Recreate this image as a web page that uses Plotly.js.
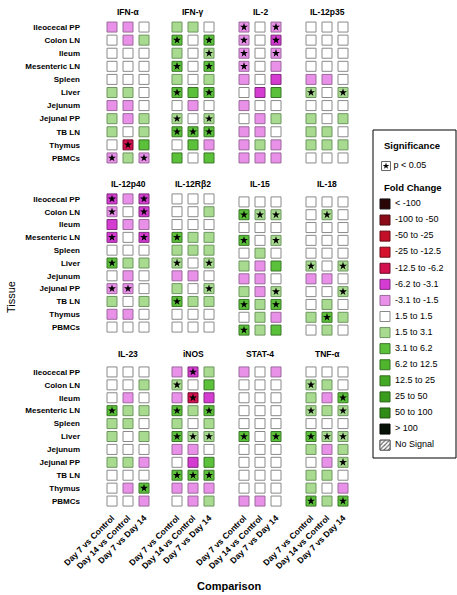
<!DOCTYPE html>
<html><head><meta charset="utf-8">
<script src="https://cdn.plot.ly/plotly-3.0.1.min.js"></script>
<style>html,body{margin:0;padding:0;background:#fff}#chart{width:457px;height:595px}</style>
</head><body><div id="chart"></div>
<script>
// ---------- data ----------
const tissues = ['Ileocecal PP','Colon LN','Ileum','Mesenteric LN','Spleen','Liver','Jejunum','Jejunal PP','TB LN','Thymus','PBMCs'];
const comparisons = ['Day 7 vs Control','Day 14 vs Control','Day 7 vs Day 14'];
const genes = ['IFN-α','IFN-γ','IL-2','IL-12p35','IL-12p40','IL-12Rβ2','IL-15','IL-18','IL-23','iNOS','STAT-4','TNF-α'];
const foldLevels = ['< -100','-100 to -50','-50 to -25','-25 to -12.5','-12.5 to -6.2','-6.2 to -3.1','-3.1 to -1.5','1.5 to 1.5','1.5 to 3.1','3.1 to 6.2','6.2 to 12.5','12.5 to 25','25 to 50','50 to 100','> 100','No Signal'];
const sigLabel = 'p < 0.05';

// fold-change level index (into foldLevels) for each tissue x comparison
const ifnA    = [[6,6,7],[7,6,8],[7,7,7],[7,7,7],[7,7,7],[8,8,7],[6,6,7],[8,6,8],[8,7,8],[7,4,9],[6,8,6]];
const ifnG    = [[8,8,7],[9,7,9],[8,7,8],[9,7,9],[8,7,8],[9,9,9],[7,6,7],[8,7,8],[9,9,9],[7,9,6],[9,7,9]];
const il2     = [[6,7,6],[6,7,5],[6,7,6],[6,7,6],[6,7,5],[7,5,9],[6,7,7],[7,6,8],[6,6,7],[6,8,6],[6,6,6]];
const il12p35 = [[7,7,7],[7,7,7],[7,7,7],[7,7,7],[6,6,7],[8,7,8],[7,7,7],[8,7,8],[8,8,7],[8,8,8],[7,7,7]];
const il12p40 = [[5,6,5],[6,7,5],[5,6,6],[5,7,5],[7,7,7],[9,8,8],[7,6,7],[6,6,7],[8,7,8],[6,6,7],[7,7,7]];
const il12rb2 = [[7,7,7],[7,7,8],[7,7,7],[9,8,8],[8,8,8],[8,7,8],[6,6,7],[8,7,8],[9,8,8],[7,7,7],[7,7,7]];
const il15    = [[7,7,7],[9,8,8],[7,7,7],[9,7,8],[7,8,7],[8,6,9],[6,6,7],[8,6,8],[9,8,9],[7,8,6],[9,8,9]];
const il18    = [[7,7,7],[7,8,7],[7,7,7],[7,7,7],[7,7,7],[8,7,8],[6,6,7],[7,7,8],[7,8,7],[8,9,8],[7,8,7]];
const il23    = [[7,7,7],[7,7,8],[7,6,7],[9,8,8],[8,8,7],[8,7,8],[7,7,7],[8,8,6],[7,7,7],[7,6,9],[7,7,6]];
const inos    = [[6,5,8],[8,7,9],[6,4,5],[9,8,9],[8,7,8],[9,8,8],[6,6,7],[7,5,9],[9,9,9],[6,6,6],[7,6,8]];
const stat4   = [[6,7,6],[7,7,7],[7,7,7],[7,7,7],[7,7,7],[9,7,9],[7,7,7],[7,7,7],[7,7,7],[7,7,7],[6,6,7]];
const tnfA    = [[7,7,7],[8,8,7],[8,6,9],[8,8,8],[7,7,7],[9,8,8],[8,6,8],[7,6,8],[8,8,7],[8,7,6],[9,8,9]];

// significance (p < 0.05) flags
const ifnA_sig    = [[0,0,0],[0,0,0],[0,0,0],[0,0,0],[0,0,0],[0,0,0],[0,0,0],[0,0,0],[0,0,0],[0,1,0],[1,0,1]];
const ifnG_sig    = [[0,0,0],[1,0,1],[0,0,1],[1,0,1],[0,0,0],[1,0,1],[0,0,0],[1,0,1],[1,1,1],[0,0,0],[0,0,0]];
const il2_sig     = [[1,0,1],[1,0,1],[1,0,1],[1,0,0],[0,0,0],[0,0,0],[0,0,0],[0,0,0],[0,0,0],[0,0,0],[0,0,0]];
const il12p35_sig = [[0,0,0],[0,0,0],[0,0,0],[0,0,0],[0,0,0],[1,0,1],[0,0,0],[0,0,0],[0,0,0],[0,0,0],[0,0,0]];
const il12p40_sig = [[1,0,1],[1,0,1],[0,0,0],[1,0,1],[0,0,0],[1,0,0],[0,0,0],[1,1,0],[0,0,0],[0,0,0],[0,0,0]];
const il12rb2_sig = [[0,0,0],[0,0,0],[0,0,0],[1,0,0],[0,0,0],[1,0,1],[0,0,0],[0,0,1],[1,0,0],[0,0,0],[0,0,0]];
const il15_sig    = [[0,0,0],[1,1,1],[0,0,0],[1,0,1],[0,0,0],[0,0,0],[0,0,0],[0,0,1],[1,0,1],[0,0,0],[1,0,0]];
const il18_sig    = [[0,0,0],[0,1,0],[0,0,0],[0,0,0],[0,0,0],[1,0,1],[0,0,0],[0,0,1],[0,0,0],[0,1,0],[0,0,0]];
const il23_sig    = [[0,0,0],[0,0,0],[0,0,0],[1,0,0],[0,0,0],[0,0,0],[0,0,0],[0,0,0],[0,0,0],[0,0,1],[0,0,0]];
const inos_sig    = [[0,1,0],[1,0,0],[0,1,0],[1,0,1],[0,0,0],[1,1,1],[0,0,0],[0,0,0],[1,1,1],[0,0,0],[0,0,0]];
const stat4_sig   = [[0,0,0],[0,0,0],[0,0,0],[0,0,0],[0,0,0],[1,0,1],[0,0,0],[0,0,0],[0,0,0],[0,0,0],[0,0,0]];
const tnfA_sig    = [[0,0,0],[1,0,0],[0,0,1],[1,0,1],[0,0,0],[1,1,1],[0,0,0],[0,0,1],[0,0,0],[0,0,0],[1,0,1]];

// ---------- styles ----------
const levelColors  = ['#2a0606','#8a0a18','#c20e26','#d5122e','#d2114e','#d43cd2','#e990e9','#ffffff','#a8da90','#5cc13a','#4fb52c','#43a924','#399c1d','#2f8c17','#071207','#ffffff'];
const levelBorders = ['#111111','#4a0a0e','#6a0a14','#700a18','#6e0a2a','#7e2a7c','#9a6a9a','#8a8a8a','#6e9660','#3a7628','#357020','#306a1c','#2a6018','#245414','#000000','#555555'];

const W = 457, H = 595;
const px = x => x / W, py = y => 1 - y / H;
const colCenters = [128, 193, 260, 327];
const rowBands = [[20.5, 164.5], [192.5, 333.5], [365.5, 507.5]];
const titleY = [12, 184, 354];
const panelShift = {6: 3, 7: 3};
const FONT = 'Liberation Sans, Arial, sans-serif';

const panels = [
  [ifnA, ifnA_sig], [ifnG, ifnG_sig], [il2, il2_sig], [il12p35, il12p35_sig],
  [il12p40, il12p40_sig], [il12rb2, il12rb2_sig], [il15, il15_sig], [il18, il18_sig],
  [il23, il23_sig], [inos, inos_sig], [stat4, stat4_sig], [tnfA, tnfA_sig]
];

const traces = [];
const layout = {
  width: W, height: H, margin: {l: 0, r: 0, t: 0, b: 0},
  paper_bgcolor: '#fff', plot_bgcolor: 'rgba(0,0,0,0)',
  showlegend: false, font: {family: FONT, color: '#000'},
  annotations: [], shapes: []
};

panels.forEach(([lev, sig], k) => {
  const r = Math.floor(k / 4), c = k % 4;
  const ax = k === 0 ? '' : String(k + 1);
  const xs = [], ys = [], cols = [], borders = [], sx = [], sy = [];
  lev.forEach((row, i) => row.forEach((lv, j) => {
    xs.push(comparisons[j]); ys.push(tissues[i]);
    cols.push(levelColors[lv]); borders.push(levelBorders[lv]);
    if (sig[i][j]) { sx.push(comparisons[j]); sy.push(tissues[i]); }
  }));
  traces.push({type: 'scatter', mode: 'markers', x: xs, y: ys, xaxis: 'x' + ax, yaxis: 'y' + ax,
    marker: {symbol: 'square', size: 10, color: cols, line: {color: borders, width: 1}},
    hoverinfo: 'skip', cliponaxis: false});
  traces.push({type: 'scatter', mode: 'markers', x: sx, y: sy, xaxis: 'x' + ax, yaxis: 'y' + ax,
    marker: {symbol: 'star', size: 6, color: '#000', line: {width: 0}},
    hoverinfo: 'skip', cliponaxis: false});
  const sh = panelShift[k] || 0;
  layout['xaxis' + ax] = {
    domain: [px(colCenters[c] - 24), px(colCenters[c] + 24)], anchor: 'y' + ax,
    type: 'category', categoryarray: comparisons, range: [-0.5, 2.5],
    showgrid: false, zeroline: false, showline: false, ticks: '',
    showticklabels: r === 2, tickangle: -45, ticklabelstandoff: 3,
    tickfont: {family: FONT, size: 8.5, color: '#000', weight: 'bold'}, fixedrange: true
  };
  layout['yaxis' + ax] = {
    domain: [py(rowBands[r][1] + sh), py(rowBands[r][0] + sh)], anchor: 'x' + ax,
    type: 'category', categoryarray: tissues, range: [10.5, -0.5],
    showgrid: false, zeroline: false, showline: false, ticks: '',
    showticklabels: c === 0, ticklabelstandoff: 23,
    tickfont: {family: FONT, size: 8, color: '#000', weight: 'bold'}, fixedrange: true
  };
  layout.annotations.push({text: genes[k], xref: 'paper', yref: 'paper',
    x: px(colCenters[c]), y: py(titleY[r]), xanchor: 'center', yanchor: 'middle',
    showarrow: false, font: {family: FONT, size: 8.5, weight: 'bold', color: '#000'}});
});

// axis titles
layout.annotations.push({text: 'Tissue', xref: 'paper', yref: 'paper', x: px(11), y: py(297),
  textangle: -90, showarrow: false, xanchor: 'center', yanchor: 'middle',
  font: {family: FONT, size: 11, color: '#000'}});
layout.annotations.push({text: 'Comparison', xref: 'paper', yref: 'paper', x: px(228.5), y: py(586),
  showarrow: false, xanchor: 'center', yanchor: 'middle',
  font: {family: FONT, size: 11, weight: 'bold', color: '#000'}});

// ---------- legend (own axis: x in px units, y in item units) ----------
layout.xaxis13 = {domain: [px(373), px(456)], anchor: 'y13', range: [0, 83], visible: false, fixedrange: true};
layout.yaxis13 = {domain: [py(458), py(130)], anchor: 'x13', range: [15.8, -4.6], visible: false, fixedrange: true};
layout.shapes.push({type: 'rect', xref: 'paper', yref: 'paper', x0: px(373), x1: px(456), y0: py(458), y1: py(130),
  line: {color: '#000', width: 1}, fillcolor: 'rgba(0,0,0,0)'});

traces.push({type: 'scatter', mode: 'markers', xaxis: 'x13', yaxis: 'y13',
  x: foldLevels.map(() => 12), y: foldLevels.map((_, i) => i),
  marker: {symbol: 'square', size: 10, color: levelColors, line: {color: levelBorders, width: 1}},
  hoverinfo: 'skip', cliponaxis: false});
traces.push({type: 'scatter', mode: 'text', xaxis: 'x13', yaxis: 'y13',
  x: foldLevels.map(() => 22), y: foldLevels.map((_, i) => i), text: foldLevels,
  textposition: 'middle right', textfont: {family: FONT, size: 9, color: '#000'},
  hoverinfo: 'skip', cliponaxis: false});
// hatched "No Signal" swatch
const ns = foldLevels.length - 1;
traces.push({type: 'scatter', mode: 'lines', xaxis: 'x13', yaxis: 'y13',
  x: [7, 17, 17, 7, 7], y: [ns - 0.31, ns - 0.31, ns + 0.31, ns + 0.31, ns - 0.31],
  fill: 'toself', fillcolor: '#fff',
  fillpattern: {shape: '/', fgcolor: '#555', bgcolor: '#fff', size: 3, solidity: 0.35},
  line: {color: '#666', width: 1}, hoverinfo: 'skip'});
// significance key
traces.push({type: 'scatter', mode: 'markers', xaxis: 'x13', yaxis: 'y13',
  x: [13], y: [-2.36],
  marker: {symbol: 'square', size: 9, color: '#fff', line: {color: '#666', width: 1}}, hoverinfo: 'skip'});
traces.push({type: 'scatter', mode: 'markers', xaxis: 'x13', yaxis: 'y13',
  x: [13], y: [-2.36], marker: {symbol: 'star', size: 5, color: '#000'}, hoverinfo: 'skip'});
traces.push({type: 'scatter', mode: 'text', xaxis: 'x13', yaxis: 'y13',
  x: [20.5], y: [-2.36], text: [sigLabel], textposition: 'middle right',
  textfont: {family: FONT, size: 9, color: '#000'}, hoverinfo: 'skip', cliponaxis: false});
layout.annotations.push({text: 'Significance', xref: 'x13', yref: 'y13', x: 9, y: -3.61,
  xanchor: 'left', yanchor: 'middle', showarrow: false, font: {family: FONT, size: 9.5, weight: 'bold', color: '#000'}});
layout.annotations.push({text: 'Fold Change', xref: 'x13', yref: 'y13', x: 9, y: -1.0,
  xanchor: 'left', yanchor: 'middle', showarrow: false, font: {family: FONT, size: 9.5, weight: 'bold', color: '#000'}});

Plotly.newPlot('chart', traces, layout, {displayModeBar: false, staticPlot: true});
</script></body></html>
